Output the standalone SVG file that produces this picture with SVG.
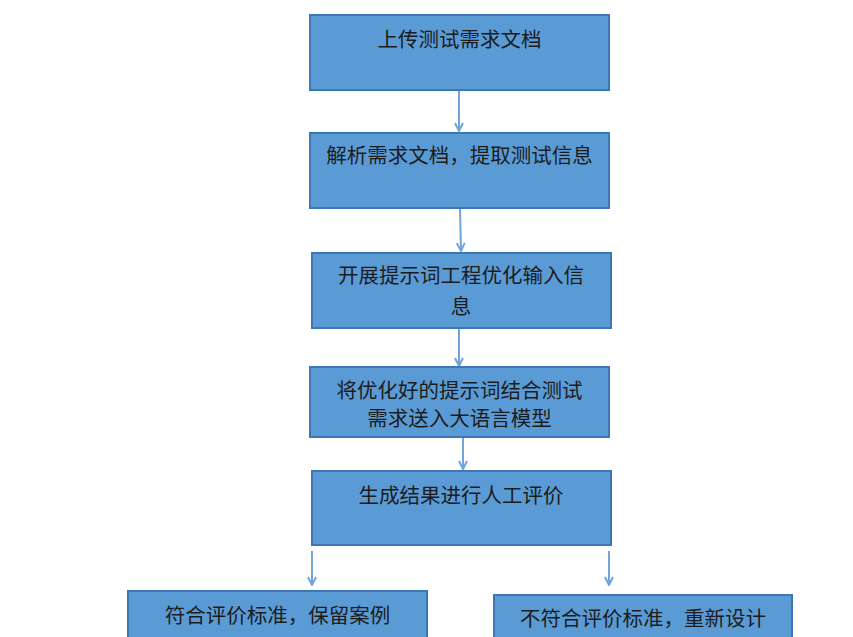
<svg xmlns="http://www.w3.org/2000/svg" width="853" height="637" viewBox="0 0 853 637">
<style>
.box{fill:#5B9BD5;stroke:#3B78B5;stroke-width:2}
.t{font-family:"Noto Sans CJK SC","Noto Sans CJK JP",sans-serif;font-size:20.5px;fill:#1c1c1c;text-anchor:middle}
.c{stroke:#6FA5DA;stroke-width:2;fill:none;marker-end:url(#ah)}
</style>
<defs>
<marker id="ah" viewBox="0 0 10 10" refX="9" refY="5" markerWidth="5" markerHeight="5" orient="auto" markerUnits="strokeWidth">
<path d="M1,1 L9,5 L1,9" fill="none" stroke="#6FA5DA" stroke-width="2"/>
</marker>
</defs>
<rect width="853" height="637" fill="#ffffff"/>
<g id="connectors">
<line class="c" x1="459" y1="91" x2="459" y2="131"/>
<line class="c" x1="460" y1="209" x2="461" y2="251"/>
<line class="c" x1="459" y1="329" x2="459" y2="366"/>
<line class="c" x1="463" y1="438" x2="463" y2="469"/>
<line class="c" x1="312" y1="551" x2="312" y2="585"/>
<line class="c" x1="609" y1="551" x2="609" y2="585"/>
</g>
<g id="n1"><rect class="box" x="310" y="15" width="299" height="75"/><text class="t" x="459.5" y="47">上传测试需求文档</text></g>
<g id="n2"><rect class="box" x="310" y="133" width="299" height="75"/><text class="t" x="459.5" y="163">解析需求文档，提取测试信息</text></g>
<g id="n3"><rect class="box" x="312" y="253" width="299" height="75"/><text class="t" x="461" y="283">开展提示词工程优化输入信</text><text class="t" x="461" y="314">息</text></g>
<g id="n4"><rect class="box" x="310" y="367" width="299" height="70"/><text class="t" x="459.5" y="398">将优化好的提示词结合测试</text><text class="t" x="459.5" y="426">需求送入大语言模型</text></g>
<g id="n5"><rect class="box" x="312" y="471" width="299" height="74"/><text class="t" x="461" y="503">生成结果进行人工评价</text></g>
<g id="n6"><rect class="box" x="128" y="591" width="299" height="60"/><text class="t" x="277.5" y="623">符合评价标准，保留案例</text></g>
<g id="n7"><rect class="box" x="494" y="595" width="298" height="60"/><text class="t" x="643" y="626">不符合评价标准，重新设计</text></g>
</svg>
